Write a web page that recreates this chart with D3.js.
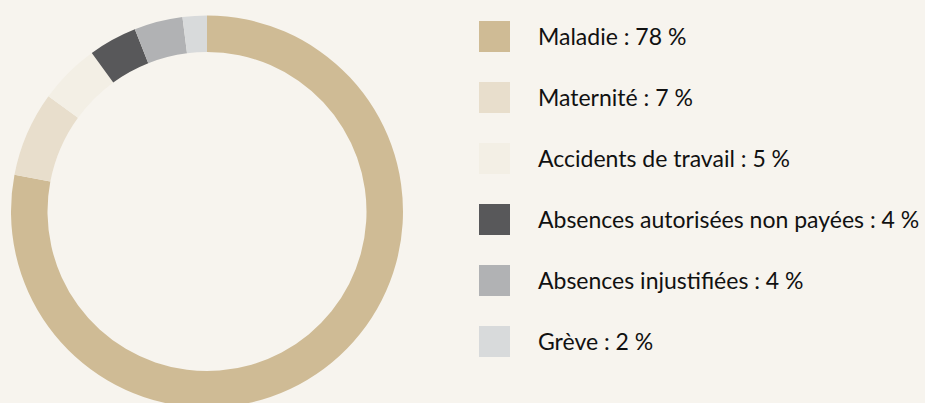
<!DOCTYPE html>
<html>
<head>
<meta charset="utf-8">
<script src="https://cdn.jsdelivr.net/npm/d3@7"></script>
<style>
  html, body { margin: 0; padding: 0; background: #f7f4ee; }
  svg { display: block; }
  .legend text { font-family: Lato, "Noto Sans", sans-serif; font-size: 23px; fill: #111; }
</style>
</head>
<body>
<svg class="donut" width="925" height="403"></svg>
<script>
const categories = ["Maladie", "Maternité", "Accidents de travail", "Absences autorisées non payées", "Absences injustifiées", "Grève"];
const values = [78, 7, 5, 4, 4, 2];
const colors = ["#cfbb95", "#e8decc", "#f3efe5", "#58585a", "#b1b2b4", "#d8dadb"];

const data = categories.map((c, i) => ({name: c, value: values[i], color: colors[i]}));

function drawDonut(data) {
    const svg = d3.select("svg.donut");
    const cx = 207, cy = 211.5;
    const outer = 196, inner = 159.5;

    const pie = d3.pie().sort(null).value(d => d.value);
    const arc = d3.arc().innerRadius(inner).outerRadius(outer);

    const g = svg.append("g")
                .attr("transform", `translate(${cx}, ${cy})`);

    g.selectAll("path")
        .data(pie(data))
        .enter().append("path")
            .attr("d", arc)
            .attr("fill", d => d.data.color);

    // legend
    const y = d3.scaleBand()
                .domain(categories)
                .range([21, 21 + 61 * categories.length]);

    const legend = svg.append("g").attr("class", "legend");
    const item = legend.selectAll("g")
        .data(data)
        .enter().append("g")
            .attr("transform", d => `translate(479, ${y(d.name)})`);

    item.append("rect")
        .attr("width", 31)
        .attr("height", 31)
        .attr("fill", d => d.color);

    item.append("text")
        .attr("x", 59)
        .attr("y", 15.5)
        .attr("dy", "0.35em")
        .text(d => `${d.name} : ${d.value} %`);
}

drawDonut(data);
</script>
</body>
</html>
